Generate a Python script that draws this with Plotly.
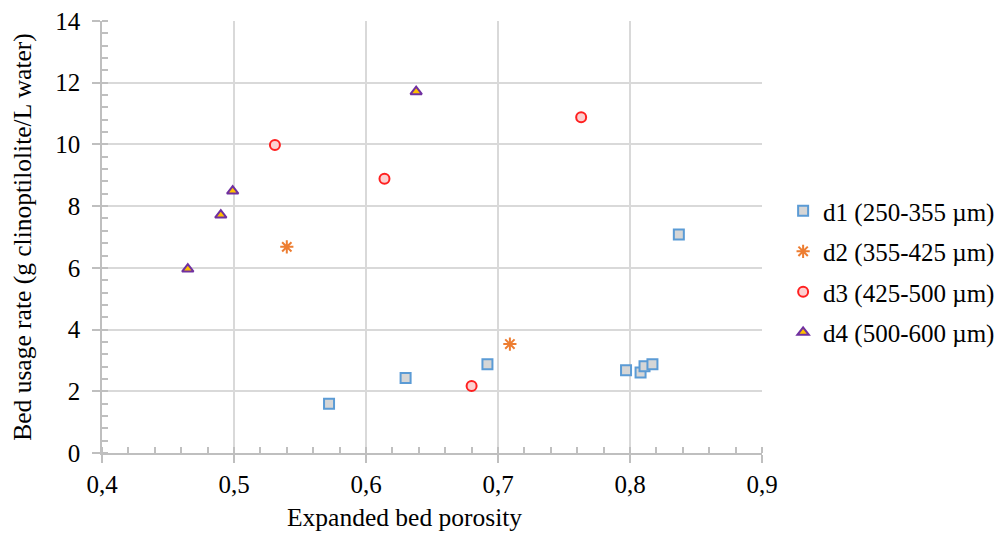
import plotly.graph_objects as go

# Bed usage rate vs. expanded bed porosity for four particle size fractions
d1_x = [0.572, 0.630, 0.692, 0.797, 0.808, 0.811, 0.817, 0.837]
d1_y = [1.60, 2.43, 2.88, 2.68, 2.61, 2.81, 2.88, 7.08]

d2_x = [0.540, 0.709]
d2_y = [6.68, 3.53]

d3_x = [0.531, 0.614, 0.680, 0.763]
d3_y = [9.98, 8.89, 2.17, 10.88]

d4_x = [0.465, 0.490, 0.499, 0.638]
d4_y = [5.96, 7.71, 8.49, 11.71]

names = ["d1 (250-355 µm)", "d2 (355-425 µm)", "d3 (425-500 µm)", "d4 (500-600 µm)"]

x_ticks = [0.4, 0.5, 0.6, 0.7, 0.8, 0.9]
x_ticktext = ["0,4", "0,5", "0,6", "0,7", "0,8", "0,9"]
y_ticks = [0, 2, 4, 6, 8, 10, 12, 14]

x_title = "Expanded bed porosity"
y_title = "Bed usage rate (g clinoptilolite/L water)"

FONT = "Liberation Serif"
TICK_SIZE = 25
TITLE_SIZE = 25.5
LEGEND_SIZE = 25

fig = go.Figure()
fig.add_trace(go.Scatter(
    x=d1_x, y=d1_y, mode="markers", name=names[0], legendgroup="d1",
    marker=dict(symbol="square", size=10, color="#d6d6d6",
                line=dict(color="#5b9bd5", width=2)),
))
fig.add_trace(go.Scatter(
    x=d2_x, y=d2_y, mode="markers", name=names[1], legendgroup="d2",
    marker=dict(symbol="asterisk-open", size=11, color="#ed7d31",
                line=dict(color="#ed7d31", width=2)),
))
fig.add_trace(go.Scatter(
    x=d3_x, y=d3_y, mode="markers", name=names[2], legendgroup="d3",
    marker=dict(symbol="circle", size=10, color="#fcd0d0",
                line=dict(color="#ff2020", width=2)),
))
fig.add_trace(go.Scatter(
    x=d4_x, y=d4_y, mode="markers", name=names[3], legendgroup="d4",
    marker=dict(symbol="triangle-up", size=10, color="#ffc000",
                line=dict(color="#7030a0", width=2)),
))

axis_common = dict(
    showgrid=True, gridcolor="#d9d9d9", gridwidth=1.5,
    showline=True, linecolor="#bfbfbf", linewidth=1.5,
    zeroline=False, automargin=False,
    ticks="outside", ticklen=8, tickcolor="#bfbfbf", tickwidth=1.5,
    tickfont=dict(family=FONT, size=TICK_SIZE, color="#000000"),
)

fig.update_xaxes(
    range=[0.4, 0.9], tickvals=x_ticks, ticktext=x_ticktext,
    minor=dict(ticks="inside", dtick=0.02, tick0=0.4, ticklen=6,
               tickcolor="#bfbfbf", tickwidth=1.5, showgrid=False),
    **axis_common,
)
fig.update_yaxes(
    range=[0, 14], tickvals=y_ticks, ticklabelstandoff=7,
    title=dict(text=y_title,
               font=dict(family=FONT, size=TITLE_SIZE, color="#000000"), standoff=16),
    minor=dict(ticks="inside", dtick=0.4, tick0=0, ticklen=6,
               tickcolor="#bfbfbf", tickwidth=1.5, showgrid=False),
    **axis_common,
)

# x-axis title placed slightly left of the plot-area centre, flush with the bottom edge
fig.add_annotation(
    text=x_title, xref="paper", yref="paper",
    x=0.458, y=-0.1875, xanchor="center", yanchor="bottom",
    showarrow=False,
    font=dict(family=FONT, size=TITLE_SIZE, color="#000000"),
)

fig.update_layout(
    width=1000, height=535,
    margin=dict(l=102, r=238, t=21, b=82, autoexpand=False),
    paper_bgcolor="#ffffff", plot_bgcolor="#ffffff",
    font=dict(family=FONT, size=LEGEND_SIZE, color="#000000"),
    legend=dict(
        x=1.032, y=0.42, xanchor="left", yanchor="middle",
        font=dict(family=FONT, size=LEGEND_SIZE, color="#000000"),
        itemwidth=30, tracegroupgap=5,
        bgcolor="rgba(0,0,0,0)",
    ),
    showlegend=True,
)

fig.write_html("out.html")
